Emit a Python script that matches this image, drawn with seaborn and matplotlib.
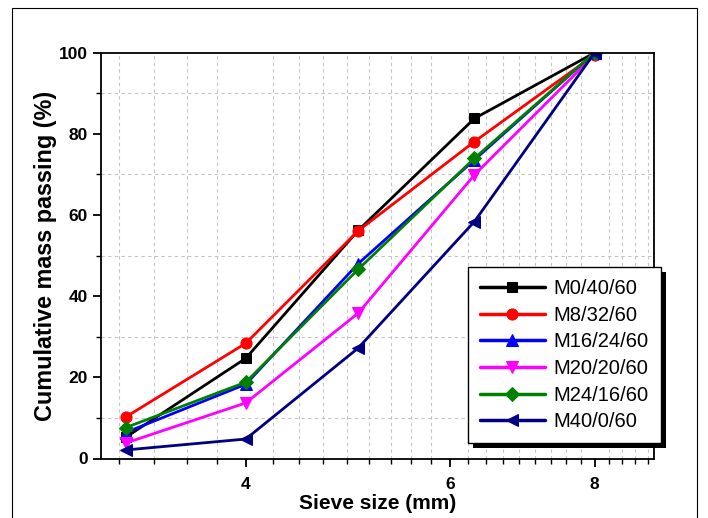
import matplotlib
matplotlib.use("Agg")
import matplotlib.pyplot as plt
import seaborn as sns
import numpy as np
import pandas as pd
from matplotlib.ticker import FixedLocator, FixedFormatter, NullFormatter, MultipleLocator
from matplotlib.patches import Rectangle

sieve = [3.15, 4, 5, 6.3, 8]
m0_40_60 = [5.2, 24.7, 56.2, 83.8, 100]
m8_32_60 = [10.2, 28.4, 56.1, 78.1, 99.5]
m16_24_60 = [6.4, 18.3, 48.0, 73.6, 100]
m20_20_60 = [3.8, 13.7, 35.8, 69.9, 99.5]
m24_16_60 = [7.6, 18.8, 46.6, 74.0, 100]
m40_0_60 = [2.1, 4.8, 27.2, 58.4, 100]

names = ["M0/40/60", "M8/32/60", "M16/24/60", "M20/20/60", "M24/16/60", "M40/0/60"]
series = [m0_40_60, m8_32_60, m16_24_60, m20_20_60, m24_16_60, m40_0_60]
colors = ["#000000", "#FF0000", "#0000FF", "#FF00FF", "#008000", "#000080"]
markers = ["s", "o", "^", "v", "D", "<"]
msizes = [6.5, 8, 8, 8, 7, 8]
xticks = [4, 6, 8]
yticks = [0, 20, 40, 60, 80, 100]

sns.set_theme(style="white")
plt.rcParams["font.family"] = ["Liberation Sans", "DejaVu Sans"]
plt.rcParams["text.color"] = "black"
plt.rcParams["xtick.color"] = "black"
plt.rcParams["ytick.color"] = "black"
plt.rcParams["axes.labelcolor"] = "black"

fig = plt.figure(figsize=(7.08, 5.18), dpi=100)
ax = fig.add_axes([101/708, 1-458.5/518, (654-101)/708, (458.5-52.7)/518])

rows = []
for n, s in zip(names, series):
    for x, y in zip(sieve, s):
        rows.append({"sieve": x, "passing": y, "mix": n})
df = pd.DataFrame(rows)

for n, c, m, ms in zip(names, colors, markers, msizes):
    sub = df[df["mix"] == n]
    sns.lineplot(data=sub, x="sieve", y="passing", ax=ax, color=c, marker=m,
                 markersize=ms, markeredgecolor=c, linewidth=2.0, label=n)

ax.set_xscale("log")
ax.set_xlim(3, 9)
ax.set_ylim(0, 100)
ax.xaxis.set_major_locator(FixedLocator(xticks))
ax.xaxis.set_major_formatter(FixedFormatter([str(t) for t in xticks]))
minors = [v for v in np.arange(2, 10.0001, 2/9) if 3 < v < 9 and min(abs(v - t) for t in xticks) > 1e-6]
ax.xaxis.set_minor_locator(FixedLocator(minors))
ax.xaxis.set_minor_formatter(NullFormatter())
ax.yaxis.set_major_locator(FixedLocator(yticks))
ax.yaxis.set_minor_locator(MultipleLocator(10))

ax.grid(False)
ax.grid(which="minor", linestyle=(0, (3, 3)), color="#c4c4c4", linewidth=0.8)
ax.set_axisbelow(True)

for sp in ax.spines.values():
    sp.set_color("black")
    sp.set_linewidth(1.3)

ax.tick_params(which="major", direction="out", length=5.5, width=1.3, color="black",
               bottom=True, left=True, top=False, right=False,
               labelsize=12.5, labelcolor="black")
ax.tick_params(axis="x", which="major", pad=8)
ax.tick_params(axis="y", which="major", pad=4)
ax.tick_params(which="minor", direction="out", length=3.5, width=1.0, color="black",
               bottom=True, left=True, top=False, right=False)
for lab in ax.get_xticklabels() + ax.get_yticklabels():
    lab.set_fontweight("bold")

ax.set_xlabel("Sieve size (mm)", fontsize=15, fontweight="bold", labelpad=1, color="black")
ax.set_ylabel("Cumulative mass passing (%)", fontsize=16.8, fontweight="bold", labelpad=1, color="black")

leg = ax.legend(loc="upper left", bbox_to_anchor=(468/708, 1-267/518),
                bbox_transform=fig.transFigure, borderaxespad=0, fancybox=False,
                frameon=True, fontsize=14.5, handlelength=3.2, labelspacing=0.38,
                borderpad=0.6, handletextpad=0.45)
leg.get_frame().set_edgecolor("black")
leg.get_frame().set_linewidth(1.0)
leg.get_frame().set_alpha(1)
leg.set_zorder(10)
for h in leg.legend_handles:
    h.set_linewidth(2.5)
for t in leg.get_texts():
    t.set_color("black")

fig.canvas.draw()
bb = leg.get_window_extent()
shadow = Rectangle(((bb.x0 + 5) / 708, (bb.y0 - 5) / 518), bb.width / 708, bb.height / 518,
                   transform=fig.transFigure, facecolor="black", edgecolor="none",
                   zorder=9, clip_on=False)
ax.add_artist(shadow)

frame = Rectangle((12/708, -0.05), (697-12)/708, 1.05 - 8/518, transform=fig.transFigure,
                  fill=False, edgecolor="black", linewidth=0.8)
fig.patches.append(frame)

fig.savefig("out.png", dpi=100)
